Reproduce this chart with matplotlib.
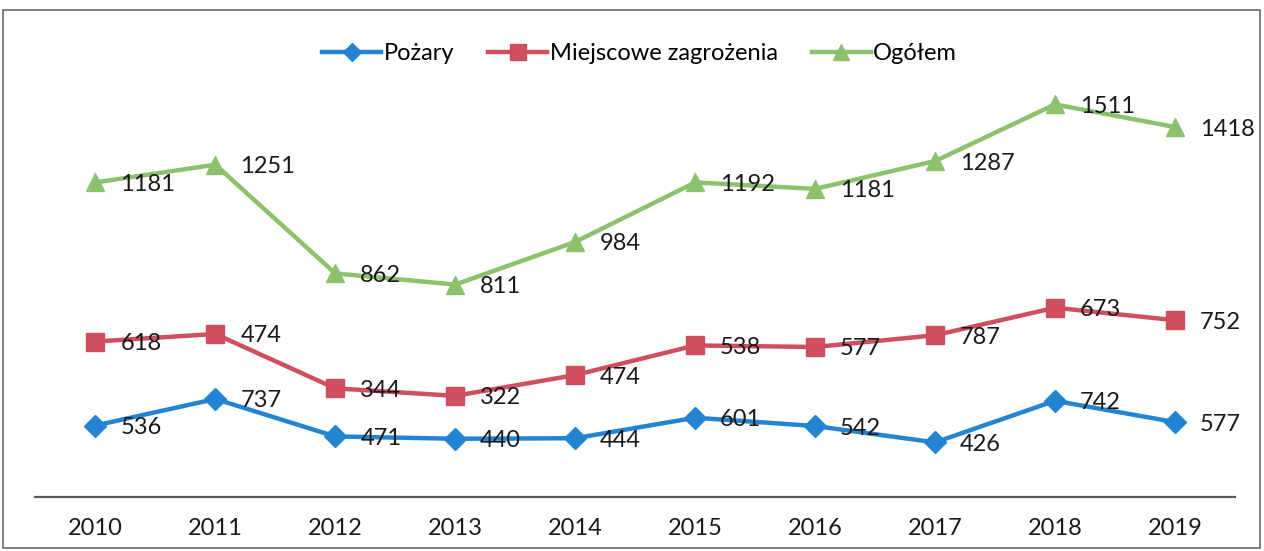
import matplotlib
matplotlib.use("Agg")
from matplotlib import pyplot as plt
from matplotlib.patches import Rectangle

years = ['2010', '2011', '2012', '2013', '2014', '2015', '2016', '2017', '2018', '2019']

# point heights
pozary = [275, 377, 233, 224, 226, 305, 273, 210, 370, 288]
miejscowe = [598, 627, 418, 389, 469, 583, 577, 622, 728, 680]
ogolem = [1210, 1278, 860, 817, 981, 1210, 1185, 1292, 1510, 1423]

# data labels as printed on the chart
pozary_lab = ['536', '737', '471', '440', '444', '601', '542', '426', '742', '577']
miejscowe_lab = ['618', '474', '344', '322', '474', '538', '577', '787', '673', '752']
ogolem_lab = ['1181', '1251', '862', '811', '984', '1192', '1181', '1287', '1511', '1418']

plt.rcParams['font.family'] = ['Lato', 'DejaVu Sans']
fs = 17

fig = plt.figure(figsize=(12.64, 5.51), dpi=100)
ax = fig.add_axes([0.028, 0.098, 0.949, 0.755])

x = list(range(len(years)))
series = [
    (pozary, pozary_lab, 'Pożary', '#2384d3', 'D', 11),
    (miejscowe, miejscowe_lab, 'Miejscowe zagrożenia', '#cf4f5f', 's', 13),
    (ogolem, ogolem_lab, 'Ogółem', '#8cc26c', '^', 13),
]
for vals, labs, name, col, mk, ms in series:
    ax.plot(x, vals, color=col, lw=3.2, marker=mk, markersize=ms, label=name)
    for xi, v, t in zip(x, vals, labs):
        ax.annotate(t, (xi, v), xytext=(25, -2), textcoords='offset pixels',
                    ha='left', va='center', fontsize=fs, color='#1a1a1a')

ax.set_xlim(-0.5, 9.5)
ax.set_ylim(0, 1600)
ax.set_xticks(x)
ax.set_xticklabels(years, fontsize=fs, color='#1a1a1a')
ax.tick_params(axis='x', length=0, pad=15)
ax.set_yticks([])
for s in ['top', 'left', 'right']:
    ax.spines[s].set_visible(False)
ax.spines['bottom'].set_color('#5a5a5a')
ax.spines['bottom'].set_linewidth(1.6)

fig.legend(loc='center', bbox_to_anchor=(0.506, 0.903), ncol=3, frameon=False,
           fontsize=fs, handlelength=2.5, handletextpad=0.1, columnspacing=1.45,
           markerscale=0.85)

fig.patches.append(Rectangle((0.002, 0.006), 0.995, 0.975, transform=fig.transFigure,
                             fill=False, edgecolor='#6a6a6a', lw=1.2))

plt.savefig('out.png', dpi=100)
